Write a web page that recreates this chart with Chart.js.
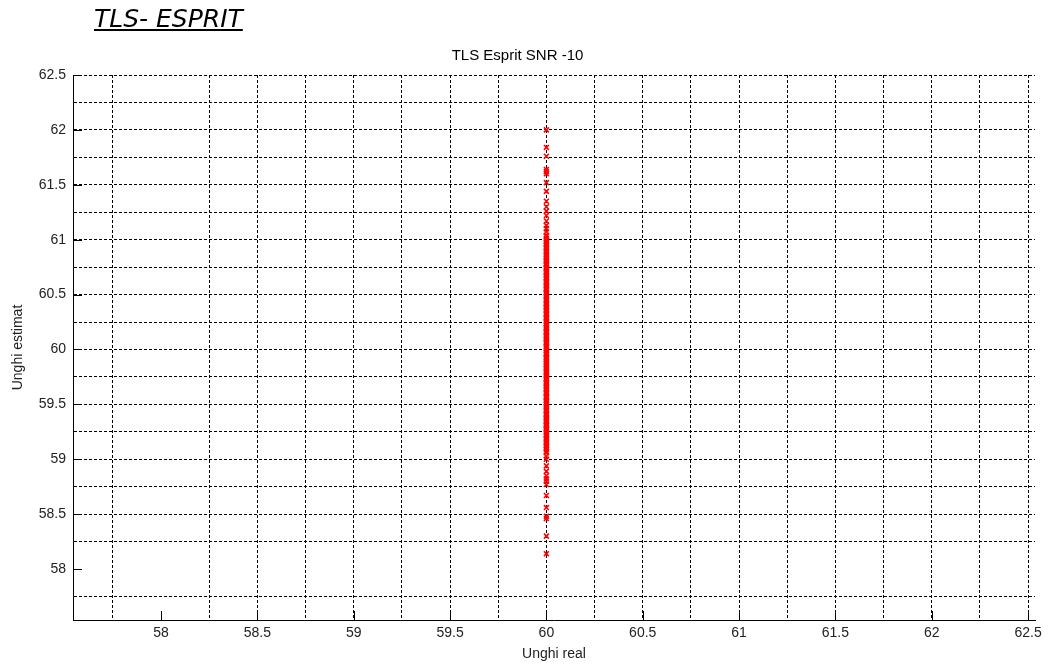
<!DOCTYPE html>
<html>
<head>
<meta charset="utf-8">
<script src="https://cdn.jsdelivr.net/npm/chart.js@4/dist/chart.umd.min.js"></script>
<style>
  html, body { margin: 0; padding: 0; background: #fff; }
  #wrap { position: relative; width: 1049px; height: 665px; }
  #heading {
    position: absolute; left: 94px; top: 4px;
    font: italic 25px "DejaVu Sans", Verdana, sans-serif;
    text-decoration: underline; color: #000;
  }
</style>
</head>
<body>
<div id="wrap">
  <canvas id="c" width="1049" height="665"></canvas>
  <div id="heading">TLS- ESPRIT</div>
</div>
<script>
// True arrival angle used in every trial
const realAngle = 60;

// Angles estimated by TLS-ESPRIT at SNR -10 dB (one per trial)
const estimatedAngles = [
  62.00, 61.84, 61.76, 61.64, 61.62, 61.60, 61.52, 61.44, 61.35, 61.30,
  61.26, 61.22, 61.17, 61.13, 61.10, 61.07,
  61.04, 61.03, 61.01, 60.99, 60.98, 60.965, 60.95, 60.93, 60.92, 60.905,
  60.89, 60.87, 60.86, 60.845, 60.83, 60.81, 60.80, 60.785, 60.77, 60.75,
  60.74, 60.725, 60.71, 60.70, 60.68, 60.67, 60.655, 60.64, 60.62, 60.61,
  60.595, 60.58, 60.56, 60.55, 60.54, 60.52, 60.51, 60.495, 60.48, 60.46,
  60.45, 60.435, 60.42, 60.41, 60.39, 60.38, 60.365, 60.35, 60.33, 60.32,
  60.305, 60.29, 60.28, 60.26, 60.25, 60.235, 60.22, 60.20, 60.19, 60.175,
  60.16, 60.15, 60.13, 60.12, 60.105, 60.09, 60.07, 60.06, 60.05, 60.03,
  60.02, 60.005, 59.99, 59.97, 59.96, 59.95, 59.93, 59.92, 59.905, 59.89,
  59.87, 59.86, 59.845, 59.83, 59.82, 59.80, 59.79, 59.775, 59.76, 59.74,
  59.73, 59.715, 59.70, 59.69, 59.67, 59.66, 59.645, 59.63, 59.61, 59.60,
  59.585, 59.57, 59.56, 59.54, 59.53, 59.515, 59.50, 59.48, 59.47, 59.455,
  59.44, 59.42, 59.41, 59.40, 59.38, 59.37, 59.355, 59.34, 59.32, 59.31,
  59.295, 59.28, 59.27, 59.25, 59.24, 59.225, 59.21, 59.19, 59.18, 59.165,
  59.15, 59.13, 59.12, 59.105, 59.09, 59.07, 59.06,
  59.03, 59.00, 58.94, 58.89, 58.85, 58.82, 58.80, 58.77, 58.67, 58.56,
  58.48, 58.46, 58.30, 58.14
];

// Axis tick labels and dashed grid positions
const xTickLabels = [58, 58.5, 59, 59.5, 60, 60.5, 61, 61.5, 62, 62.5];
const yTickLabels = [58, 58.5, 59, 59.5, 60, 60.5, 61, 61.5, 62, 62.5];
const gridValues = [57.75, 58, 58.25, 58.5, 58.75, 59, 59.25, 59.5, 59.75, 60,
  60.25, 60.5, 60.75, 61, 61.25, 61.5, 61.75, 62, 62.25, 62.5];
const hiddenGridValue = 58;

const points = estimatedAngles.map(v => ({ x: realAngle, y: v }));

const tickFont = { family: "'Liberation Sans', Arial, sans-serif", size: 14 };
const gridColor = ctx => (ctx.tick && Math.abs(ctx.tick.value - hiddenGridValue) < 1e-9) ? 'rgba(0,0,0,0)' : '#000';

// MATLAB-style inward tick marks at labelled values
const inwardTicks = {
  id: 'inwardTicks',
  afterDatasetsDraw(chart) {
    const { ctx, chartArea, scales } = chart;
    ctx.save();
    ctx.strokeStyle = '#000';
    ctx.lineWidth = 1;
    ctx.beginPath();
    xTickLabels.forEach(v => {
      const px = Math.round(scales.x.getPixelForValue(v)) + 0.5;
      ctx.moveTo(px, chartArea.bottom);
      ctx.lineTo(px, chartArea.bottom - 9);
    });
    yTickLabels.forEach(v => {
      const py = Math.round(scales.y.getPixelForValue(v)) + 0.5;
      ctx.moveTo(chartArea.left, py);
      ctx.lineTo(chartArea.left + 9, py);
    });
    ctx.stroke();
    ctx.restore();
  }
};

new Chart(document.getElementById('c'), {
  type: 'scatter',
  data: {
    datasets: [{
      data: points,
      pointStyle: 'crossRot',
      pointRadius: 3.5,
      pointBorderWidth: 1.6,
      pointBorderColor: '#ff0000',
      pointBackgroundColor: '#ff0000',
      showLine: false
    }]
  },
  options: {
    responsive: false,
    animation: false,
    devicePixelRatio: 1,
    layout: { padding: { left: 0, right: 14, top: 0, bottom: 0 } },
    plugins: {
      legend: { display: false },
      tooltip: { enabled: false },
      title: {
        display: true,
        text: 'TLS Esprit SNR -10',
        color: '#000',
        font: { family: "'Liberation Sans', Arial, sans-serif", size: 15, weight: 'normal' },
        padding: { top: 47, bottom: 10 }
      }
    },
    scales: {
      x: {
        type: 'linear',
        min: 57.543,
        max: 62.536,
        afterBuildTicks: s => { s.ticks = gridValues.map(v => ({ value: v })); },
        afterFit: s => { s.height = 45; },
        ticks: {
          autoSkip: false,
          maxRotation: 0,
          padding: 5,
          color: '#222',
          font: tickFont,
          callback: v => xTickLabels.includes(v) ? String(v) : ''
        },
        grid: { color: gridColor, lineWidth: 1, drawTicks: false },
        border: { color: '#000', width: 1, dash: [3, 2] },
        title: {
          display: true, text: 'Unghi real', color: '#222',
          font: tickFont, padding: { top: 0, bottom: 2 }
        }
      },
      y: {
        type: 'linear',
        min: 57.536,
        max: 62.5,
        afterBuildTicks: s => { s.ticks = gridValues.map(v => ({ value: v })); },
        afterFit: s => { s.width = 73; },
        ticks: {
          autoSkip: false,
          padding: 7,
          color: '#222',
          font: tickFont,
          callback: v => yTickLabels.includes(v) ? String(v) : ''
        },
        grid: { color: gridColor, lineWidth: 1, drawTicks: false },
        border: { color: '#000', width: 1, dash: [3, 2] },
        title: {
          display: true, text: 'Unghi estimat', color: '#222',
          font: tickFont, padding: { top: 10, bottom: 0 }
        }
      }
    }
  },
  plugins: [inwardTicks]
});
</script>
</body>
</html>
